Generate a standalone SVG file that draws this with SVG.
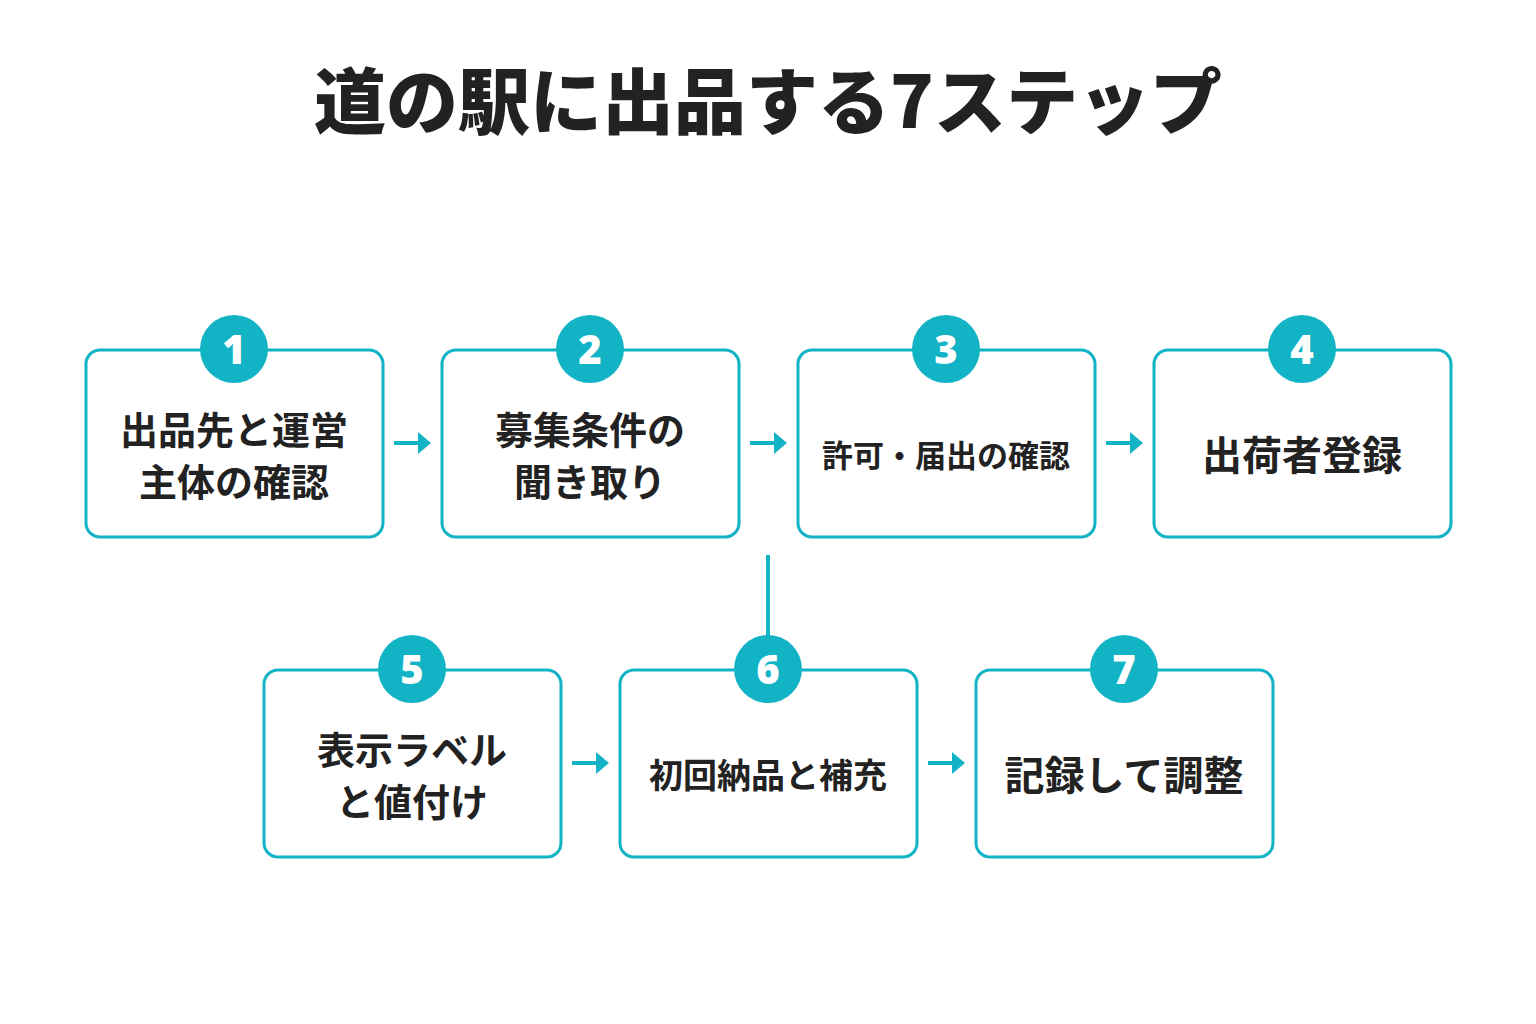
<svg xmlns="http://www.w3.org/2000/svg" width="1536" height="1024" viewBox="0 0 1536 1024">
<style>
.box{fill:#fff;stroke:#13b3c6;stroke-width:3}
.c{fill:#13b3c6}
.n{font-family:"Noto Sans","Liberation Sans",sans-serif;font-weight:900;font-size:40px;fill:#fff;text-anchor:middle}
.t{font-family:"Noto Sans CJK JP",sans-serif;font-weight:700;fill:#222;text-anchor:middle}
.ln{stroke:#13b3c6;stroke-width:4;fill:none}
</style>
<defs><marker id="ah" markerWidth="4" markerHeight="4" refX="2" refY="2" orient="auto" markerUnits="userSpaceOnUse" viewBox="0 0 4 4"><path d="M0,0 L4,2 L0,4z" fill="#13b3c6"/></marker></defs>
<rect width="1536" height="1024" fill="#fff"/>
<text x="768" y="128" class="t" style="font-size:72px;font-weight:900">道の駅に出品する7ステップ</text>
<g id="connectors">
<path class="ln" d="M394,443H418"/><path d="M418,432L431,443L418,454z" class="c"/>
<path class="ln" d="M750,443H774"/><path d="M774,432L787,443L774,454z" class="c"/>
<path class="ln" d="M1106,443H1130"/><path d="M1130,432L1143,443L1130,454z" class="c"/>
<path class="ln" d="M572,763H596"/><path d="M596,752L609,763L596,774z" class="c"/>
<path class="ln" d="M928,763H952"/><path d="M952,752L965,763L952,774z" class="c"/>
<path class="ln" d="M768,555V640"/>
</g>
<g id="n1"><rect class="box" x="86" y="350" width="297" height="187" rx="14"/><circle class="c" cx="234" cy="349" r="34"/><text class="n" x="234" y="364">1</text><text class="t" x="234" y="444" font-size="38">出品先と運営</text><text class="t" x="234" y="496" font-size="38">主体の確認</text></g>
<g id="n2"><rect class="box" x="442" y="350" width="297" height="187" rx="14"/><circle class="c" cx="590" cy="349" r="34"/><text class="n" x="590" y="364">2</text><text class="t" x="590" y="444" font-size="38">募集条件の</text><text class="t" x="590" y="496" font-size="38">聞き取り</text></g>
<g id="n3"><rect class="box" x="798" y="350" width="297" height="187" rx="14"/><circle class="c" cx="946" cy="349" r="34"/><text class="n" x="946" y="364">3</text><text class="t" x="946" y="467" font-size="31">許可・届出の確認</text></g>
<g id="n4"><rect class="box" x="1154" y="350" width="297" height="187" rx="14"/><circle class="c" cx="1302" cy="349" r="34"/><text class="n" x="1302" y="364">4</text><text class="t" x="1302" y="470" font-size="40">出荷者登録</text></g>
<g id="n5"><rect class="box" x="264" y="670" width="297" height="187" rx="14"/><circle class="c" cx="412" cy="669" r="34"/><text class="n" x="412" y="684">5</text><text class="t" x="412" y="764" font-size="38">表示ラベル</text><text class="t" x="412" y="816" font-size="38">と値付け</text></g>
<g id="n6"><rect class="box" x="620" y="670" width="297" height="187" rx="14"/><circle class="c" cx="768" cy="669" r="34"/><text class="n" x="768" y="684">6</text><text class="t" x="768" y="788" font-size="34">初回納品と補充</text></g>
<g id="n7"><rect class="box" x="976" y="670" width="297" height="187" rx="14"/><circle class="c" cx="1124" cy="669" r="34"/><text class="n" x="1124" y="684">7</text><text class="t" x="1124" y="790" font-size="40">記録して調整</text></g>
</svg>
